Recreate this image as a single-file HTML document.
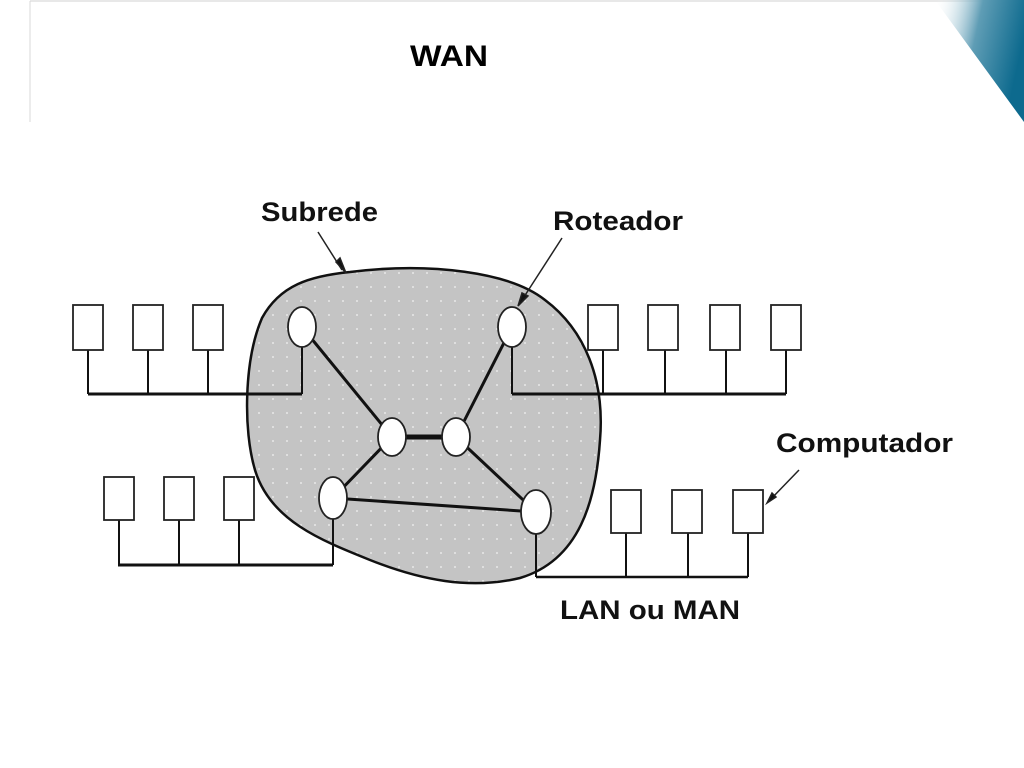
<!DOCTYPE html>
<html><head><meta charset="utf-8"><style>
html,body{margin:0;padding:0;background:#fff;}
body{width:1024px;height:768px;overflow:hidden;position:relative;font-family:"Liberation Sans",sans-serif;}
</style></head><body>
<svg width="1024" height="768" viewBox="0 0 1024 768" xmlns="http://www.w3.org/2000/svg" style="position:absolute;left:0;top:0">
<defs>
<linearGradient id="g" x1="0" y1="0" x2="1" y2="0.3">
<stop offset="0" stop-color="#ffffff" stop-opacity="0"/>
<stop offset="0.5" stop-color="#5f9db5"/>
<stop offset="1" stop-color="#0d6a8e"/>
</linearGradient>
<pattern id="dots" width="14" height="14" patternUnits="userSpaceOnUse">
<rect width="14" height="14" fill="#c4c4c4"/><circle cx="7" cy="7" r="1" fill="#e8e8e8"/>
</pattern>
</defs>
<line x1="30" y1="1" x2="1024" y2="1" stroke="#d0d0d0" stroke-width="1"/>
<line x1="30" y1="1" x2="30" y2="122" stroke="#d8d8d8" stroke-width="1"/>
<polygon points="935,0 1024,0 1024,122" fill="url(#g)"/>
<text x="410" y="66" font-size="30" font-weight="bold" textLength="78" lengthAdjust="spacingAndGlyphs" font-family="Liberation Sans Narrow, Liberation Sans, sans-serif">WAN</text>

<path d="M350,272 C430,262 510,272 545,300 C585,330 605,380 600,440 C596,500 580,560 520,578 C470,590 420,580 370,560 C320,540 270,520 255,470 C243,430 244,360 262,318 C280,285 310,276 350,272 Z" fill="url(#dots)" stroke="#111" stroke-width="2.5"/>

<g stroke="#111" fill="none">
<g stroke-width="3"><line x1="88" y1="394" x2="302" y2="394"/></g>
<g stroke-width="2"><line x1="88" y1="350" x2="88" y2="394"/><line x1="148" y1="350" x2="148" y2="394"/><line x1="208" y1="350" x2="208" y2="394"/><line x1="302" y1="347" x2="302" y2="394"/></g>
<line x1="512" y1="394" x2="786" y2="394" stroke-width="3"/>
<g stroke-width="2"><line x1="512" y1="347" x2="512" y2="394"/><line x1="603" y1="350" x2="603" y2="394"/><line x1="665" y1="350" x2="665" y2="394"/><line x1="726" y1="350" x2="726" y2="394"/><line x1="786" y1="350" x2="786" y2="394"/></g>
<line x1="118" y1="565" x2="333" y2="565" stroke-width="3"/>
<g stroke-width="2"><line x1="119" y1="520" x2="119" y2="565"/><line x1="179" y1="520" x2="179" y2="565"/><line x1="239" y1="520" x2="239" y2="565"/><line x1="333" y1="518" x2="333" y2="565"/></g>
<line x1="536" y1="577" x2="748" y2="577" stroke-width="2.5"/>
<g stroke-width="2"><line x1="536" y1="532" x2="536" y2="577"/><line x1="626" y1="533" x2="626" y2="577"/><line x1="688" y1="533" x2="688" y2="577"/><line x1="748" y1="533" x2="748" y2="577"/></g>
<g stroke-width="3"><line x1="302" y1="327" x2="392" y2="437"/><line x1="512" y1="327" x2="456" y2="437"/><line x1="392" y1="437" x2="456" y2="437" stroke-width="5"/><line x1="392" y1="437" x2="333" y2="498"/><line x1="456" y1="437" x2="536" y2="512"/><line x1="333" y1="498" x2="536" y2="512"/></g>
</g>
<g fill="#fff" stroke="#222" stroke-width="1.8">
<rect x="73" y="305" width="30" height="45"/><rect x="133" y="305" width="30" height="45"/><rect x="193" y="305" width="30" height="45"/>
<rect x="588" y="305" width="30" height="45"/><rect x="648" y="305" width="30" height="45"/><rect x="710" y="305" width="30" height="45"/><rect x="771" y="305" width="30" height="45"/>
<rect x="104" y="477" width="30" height="43"/><rect x="164" y="477" width="30" height="43"/><rect x="224" y="477" width="30" height="43"/>
<rect x="611" y="490" width="30" height="43"/><rect x="672" y="490" width="30" height="43"/><rect x="733" y="490" width="30" height="43"/>
<ellipse cx="302" cy="327" rx="14" ry="20"/><ellipse cx="512" cy="327" rx="14" ry="20"/>
<ellipse cx="392" cy="437" rx="14" ry="19"/><ellipse cx="456" cy="437" rx="14" ry="19"/>
<ellipse cx="333" cy="498" rx="14" ry="21"/><ellipse cx="536" cy="512" rx="15" ry="22"/>
</g>
<g stroke="#222" stroke-width="1.5" fill="#111">
<line x1="318" y1="232" x2="342" y2="270"/><polygon points="336,262 346,273 340,258"/>
<line x1="562" y1="238" x2="522" y2="300"/><polygon points="518,306 528,296 522,293"/>
<line x1="799" y1="470" x2="770" y2="500"/><polygon points="767,503 776,497 772,493"/>
</g>
<g font-family="Liberation Sans, sans-serif" font-weight="bold" font-size="27" fill="#111" lengthAdjust="spacingAndGlyphs">
<text x="261" y="221" textLength="117" lengthAdjust="spacingAndGlyphs">Subrede</text>
<text x="553" y="230" textLength="130" lengthAdjust="spacingAndGlyphs">Roteador</text>
<text x="776" y="452" textLength="177" lengthAdjust="spacingAndGlyphs">Computador</text>
<text x="560" y="619" textLength="180" lengthAdjust="spacingAndGlyphs">LAN ou MAN</text>
</g>
</svg>
</body></html>
